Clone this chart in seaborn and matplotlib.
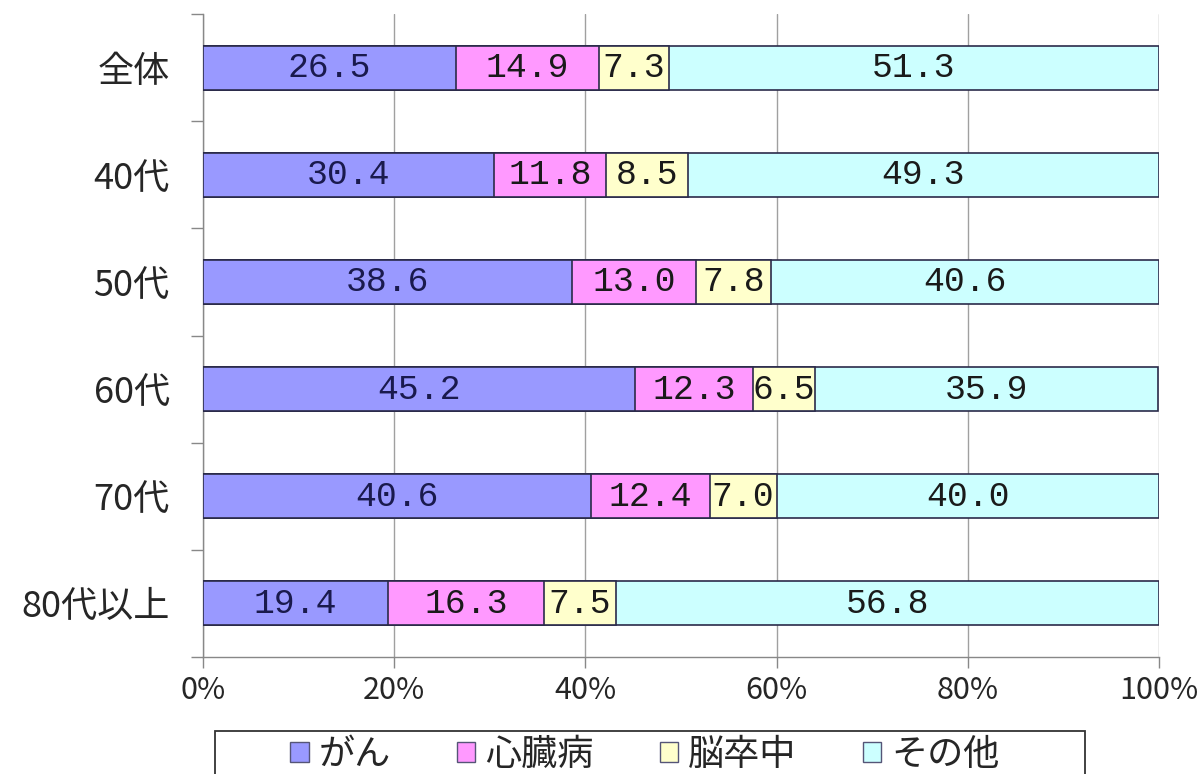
import numpy as np
import pandas as pd
import matplotlib
matplotlib.use("Agg")
import matplotlib.pyplot as plt
from matplotlib.patches import Patch, Rectangle
from matplotlib.ticker import FixedLocator
import seaborn as sns

# data
groups = ['全体', '40代', '50代', '60代', '70代', '80代以上']
causes = ['がん', '心臓病', '脳卒中', 'その他']
gan = [26.5, 30.4, 38.6, 45.2, 40.6, 19.4]
shinzo = [14.9, 11.8, 13.0, 12.3, 12.4, 16.3]
nosotchu = [7.3, 8.5, 7.8, 6.5, 7.0, 7.5]
sonota = [51.3, 49.3, 40.6, 35.9, 40.0, 56.8]
colors = ['#9999FF', '#FF99FF', '#FFFFCC', '#CCFFFF']
text_colors = ['#1a1a4d', '#1a1a1a', '#1a1a1a', '#1a1a1a']

sns.set_style('white')
plt.rcParams['font.family'] = ['Noto Sans CJK JP', 'DejaVu Sans']

df = pd.DataFrame({'group': groups, 'がん': gan, '心臓病': shinzo,
                   '脳卒中': nosotchu, 'その他': sonota})
cum = df[causes].cumsum(axis=1)

W, H = 1202, 774
fig = plt.figure(figsize=(W / 100, H / 100), dpi=100)
ax = fig.add_axes([203 / W, 1 - 657 / H, (1159 - 203) / W, (657 - 14) / H])

# draw cumulative bars from the longest down so they stack
for i in range(len(causes) - 1, -1, -1):
    sns.barplot(x=cum[causes[i]], y=df['group'], orient='h', color=colors[i],
                edgecolor='#2b2b4a', linewidth=1.2, width=0.41, ax=ax,
                saturation=1, zorder=3)

# segment labels
for i, c in enumerate(causes):
    left = cum[c] - df[c]
    for j, v in enumerate(df[c]):
        ax.text(left[j] + v / 2, j, f'{v:.1f}', ha='center', va='center',
                fontsize=25, family=['Liberation Mono', 'DejaVu Sans Mono'],
                color=text_colors[i], zorder=5)

ax.set_xlim(0, 100)
ax.set_ylim(5.5, -0.5)
ax.set_xticks([0, 20, 40, 60, 80, 100])
ax.set_xticklabels(['0%', '20%', '40%', '60%', '80%', '100%'], fontsize=22)
ax.yaxis.set_minor_locator(FixedLocator(np.arange(-0.5, 6, 1)))
ax.tick_params(axis='y', which='major', length=0, pad=24, labelsize=26)
ax.tick_params(axis='y', which='minor', left=True, length=9, color='#888888', width=1)
ax.tick_params(axis='x', which='major', bottom=True, length=8, color='#888888',
               width=1, pad=5)
ax.set_xlabel('')
ax.set_ylabel('')

ax.grid(axis='x', color='#A0A0A0', linewidth=1, zorder=0)
ax.set_axisbelow(True)
for s in ['top', 'right']:
    ax.spines[s].set_visible(False)
for s in ['left', 'bottom']:
    ax.spines[s].set_color('#888888')
    ax.spines[s].set_linewidth(1)

# legend frame (wider than the entries, runs off the bottom edge)
fig.patches.append(Rectangle((215 / W, -0.05), (1085 - 215) / W, 0.05 + 1 - 731 / H,
                             transform=fig.transFigure, facecolor='white',
                             edgecolor='#333333', linewidth=1.3, zorder=1))

handles = [Patch(facecolor=colors[i], edgecolor='#555577', linewidth=1) for i in range(4)]
leg = fig.legend(handles, causes, loc='center', bbox_to_anchor=(645 / W, 1 - 755 / H),
                 ncol=4, fontsize=26, frameon=False, handlelength=0.5,
                 handleheight=0.5, handletextpad=0.27, columnspacing=1.85,
                 borderpad=0, borderaxespad=0)
leg.set_zorder(2)

fig.savefig('out.png', dpi=100)
